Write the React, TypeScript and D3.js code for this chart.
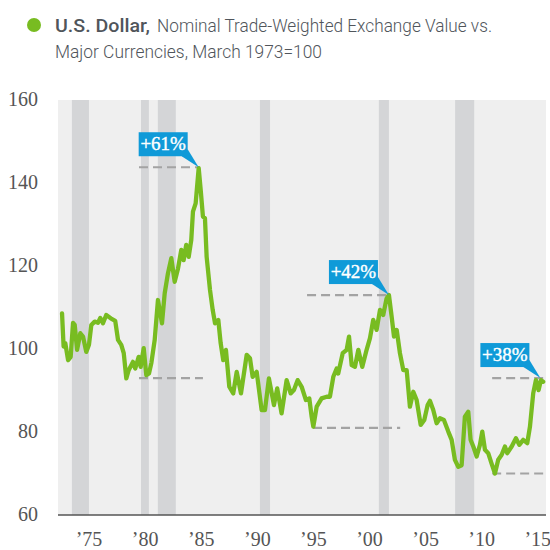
import React from "react";
import * as d3 from "d3";

const years = [
  1972.86, 1973.0, 1973.15, 1973.4, 1973.63, 1973.84, 1973.99, 1974.2, 1974.49, 1974.73,
  1975.02, 1975.26, 1975.47, 1975.77, 1976.06, 1976.27, 1976.51, 1976.8, 1977.2, 1977.6,
  1977.85, 1978.14, 1978.36, 1978.59, 1978.8, 1979.18, 1979.39, 1979.69, 1979.87, 1980.14,
  1980.37, 1980.61, 1980.82, 1981.12, 1981.41, 1981.77, 1982.01, 1982.3, 1982.6, 1982.9,
  1983.2, 1983.49, 1983.7, 1983.93, 1984.15, 1984.38, 1984.53, 1984.77, 1985.04, 1985.22,
  1985.42, 1985.6, 1985.75, 1986.05, 1986.29, 1986.5, 1986.79, 1987.0, 1987.23, 1987.47,
  1987.77, 1988.12, 1988.43, 1988.81, 1989.32, 1989.61, 1989.85, 1990.21, 1990.65, 1990.95,
  1991.3, 1991.75, 1992.04, 1992.43, 1992.88, 1993.24, 1993.53, 1993.86, 1994.22, 1994.6,
  1994.9, 1995.11, 1995.26, 1995.56, 1996.0, 1996.45, 1996.74, 1997.04, 1997.34, 1997.48,
  1997.88, 1998.23, 1998.44, 1998.68, 1998.97, 1999.27, 1999.62, 2000.01, 2000.31, 2000.6,
  2000.9, 2001.2, 2001.49, 2001.79, 2002.0, 2002.24, 2002.45, 2002.69, 2002.98, 2003.28,
  2003.58, 2003.87, 2004.17, 2004.47, 2004.83, 2005.15, 2005.45, 2005.66, 2005.95, 2006.25,
  2006.55, 2006.9, 2007.29, 2007.59, 2007.88, 2008.18, 2008.48, 2008.77, 2009.07, 2009.28,
  2009.52, 2009.82, 2010.11, 2010.32, 2010.56, 2010.85, 2011.15, 2011.45, 2011.74, 2012.05,
  2012.34, 2012.55, 2012.94, 2013.32, 2013.62, 2013.97, 2014.33, 2014.57, 2014.86, 2015.1,
  2015.34, 2015.55, 2015.75,
];

const values = [
  108.6, 100.6, 101.4, 97.3, 98.1, 106.3, 105.8, 99.8, 103.8, 103.0,
  99.3, 101.0, 105.8, 106.6, 106.3, 107.5, 106.2, 108.2, 107.4, 106.8,
  102.2, 101.0, 99.0, 92.9, 94.9, 96.9, 95.3, 98.1, 95.7, 100.2,
  93.7, 94.1, 96.6, 102.2, 111.8, 106.2, 113.4, 118.2, 121.9, 116.2,
  119.4, 123.9, 121.4, 125.1, 122.2, 126.3, 133.1, 135.1, 143.6, 138.3,
  131.9, 131.5, 122.2, 114.2, 109.4, 106.2, 107.0, 101.4, 97.3, 99.8,
  90.9, 89.3, 94.5, 89.3, 98.6, 97.8, 93.3, 94.5, 85.3, 85.3,
  92.9, 86.5, 90.5, 84.5, 92.5, 89.3, 90.1, 92.5, 90.9, 87.7,
  88.1, 83.7, 81.3, 86.1, 88.1, 88.5, 88.5, 93.3, 95.3, 94.1,
  99.0, 99.8, 103.0, 96.1, 95.7, 99.8, 95.7, 99.8, 102.6, 107.0,
  104.6, 109.4, 108.2, 112.2, 113.0, 107.8, 103.0, 104.6, 99.0, 94.9,
  94.9, 86.1, 89.7, 87.7, 81.7, 82.9, 86.5, 87.5, 85.3, 82.1,
  83.3, 82.9, 80.1, 78.1, 73.3, 71.6, 72.0, 83.7, 84.9, 78.1,
  76.5, 74.1, 76.9, 80.1, 75.7, 74.9, 72.4, 70.0, 73.3, 74.5,
  76.5, 74.9, 76.5, 78.5, 76.9, 78.1, 77.3, 81.3, 89.3, 92.5,
  90.1, 92.5, 92.1,
];

const recessionStart = [1973.74, 1979.9, 1981.4, 1990.5, 2001.1, 2007.9];
const recessionEnd = [1975.26, 1980.6, 1983.0, 1991.4, 2002.0, 2009.6];

const yTicks = [60, 80, 100, 120, 140, 160];
const xTickYears = [1975, 1980, 1985, 1990, 1995, 2000, 2005, 2010, 2015];
const xTickLabels = ["\u201975", "\u201980", "\u201985", "\u201990", "\u201995", "\u201900", "\u201905", "\u201910", "\u201915"];

const annLabels = ["+61%", "+42%", "+38%"];
const annPeakYear = [1985.04, 2002.0, 2015.5];
const annHigh = [143.8, 113.0, 93.0];
const annLow = [93.0, 81.0, 70.0];
const annHighStart = [1979.72, 1994.7, 2011.2];
const annHighEnd = [1985.16, 2002.0, 2015.75];
const annLowStart = [1979.72, 1995.23, 2011.2];
const annLowEnd = [1985.42, 2003.0, 2015.75];

const GREEN = "#78bc21";
const BLUE = "#0f9ad8";

export default function App() {
  const left = 58, right = 546, top = 100, bottom = 515;
  const x = d3.scaleLinear().domain([1972.5, 2016.0]).range([left, right]);
  const y = d3.scaleLinear().domain([60, 160]).range([bottom, top]);
  const pts: [number, number][] = years.map((yr, i) => [yr, values[i]]);
  const line = d3
    .line<[number, number]>()
    .x((d) => x(d[0]))
    .y((d) => y(d[1]))
    .curve(d3.curveLinear);

  return (
    <svg
      width={550}
      height={550}
      style={{ position: "absolute", left: 0, top: 0, background: "#fff" }}
    >
      {/* Title */}
      <circle cx={34} cy={25} r={7} fill={GREEN} />
      <text x={55} y={32} fontFamily="Roboto" fontWeight={500} fontSize={18} fill="#50555b" textLength={95} lengthAdjust="spacingAndGlyphs">
        U.S. Dollar,
      </text>
      <text x={157} y={32} fontFamily="Roboto" fontWeight={300} fontSize={18} fill="#50555b" textLength={335} lengthAdjust="spacingAndGlyphs">
        Nominal Trade-Weighted Exchange Value vs.
      </text>
      <text x={55} y={58} fontFamily="Roboto" fontWeight={300} fontSize={18} fill="#50555b" textLength={267} lengthAdjust="spacingAndGlyphs">
        Major Currencies, March 1973=100
      </text>

      {/* Plot background */}
      <rect x={left} y={top} width={right - left} height={bottom - top} fill="#efefef" />
      {recessionStart.map((s, i) => (
        <rect
          key={"r" + i}
          x={x(s)}
          y={top}
          width={x(recessionEnd[i]) - x(s)}
          height={bottom - top}
          fill="#d4d5d7"
        />
      ))}

      {/* Dashed reference lines */}
      {annLabels.map((_, i) => (
        <g key={"d" + i} stroke="#a3a3a3" strokeWidth={2.2} strokeDasharray="9,5">
          <line x1={x(annHighStart[i])} x2={x(annHighEnd[i])} y1={y(annHigh[i])} y2={y(annHigh[i])} />
          <line x1={x(annLowStart[i])} x2={x(annLowEnd[i])} y1={y(annLow[i])} y2={y(annLow[i])} />
        </g>
      ))}

      {/* Data line */}
      <path d={line(pts) || ""} fill="none" stroke={GREEN} strokeWidth={4.3} strokeLinejoin="round" strokeLinecap="round" />

      {/* Annotation boxes */}
      {annLabels.map((lab, i) => {
        const tx = x(annPeakYear[i]);
        const ty = y(annHigh[i]);
        const bw = 49, bh = 24;
        const br = tx - 11;
        const bb = ty - 11;
        return (
          <g key={"a" + i}>
            <rect x={br - bw} y={bb - bh} width={bw} height={bh} fill={BLUE} />
            <polygon points={`${br - 6},${bb} ${br},${bb - 7} ${tx},${ty}`} fill={BLUE} />
            <text x={br - bw / 2} y={bb - 6} textAnchor="middle" fontFamily="Liberation Serif" fontSize={19} fill="#fff" stroke="#fff" strokeWidth={0.4}>
              {lab}
            </text>
          </g>
        );
      })}

      {/* Axis line */}
      <line x1={left} x2={right} y1={bottom} y2={bottom} stroke="#555" strokeWidth={1.5} />

      {/* Y tick labels */}
      {yTicks.map((t) => (
        <text key={"y" + t} x={38} y={y(t) + 6} textAnchor="end" fontFamily="Liberation Serif" fontSize={20} fill="#555">
          {t}
        </text>
      ))}

      {/* X tick labels */}
      {xTickYears.map((t, i) => (
        <text key={"x" + t} x={x(t) + 3} y={546} textAnchor="middle" fontFamily="Liberation Serif" fontSize={20} fill="#555">
          {xTickLabels[i]}
        </text>
      ))}
    </svg>
  );
}
